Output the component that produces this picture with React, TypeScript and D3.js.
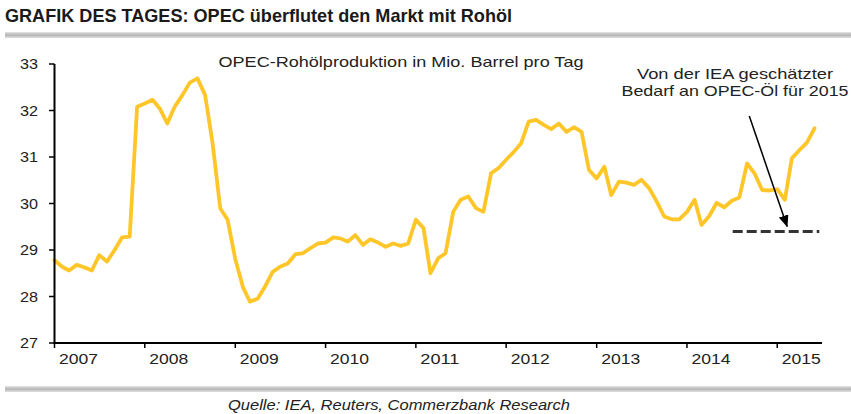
import React from "react";
import * as d3 from "d3";

// ---- data ----
const startMonth = "2007-01-01";
const production: number[] = [
  // 2007
  28.78, 28.64, 28.56, 28.68, 28.63, 28.56, 28.89, 28.75, 29.0, 29.27, 29.29, 32.08,
  // 2008
  32.15, 32.23, 32.05, 31.72, 32.08, 32.33, 32.6, 32.69, 32.33, 31.3, 29.9, 29.65,
  // 2009
  28.8, 28.2, 27.89, 27.95, 28.21, 28.53, 28.64, 28.71, 28.91, 28.93, 29.04, 29.14,
  // 2010
  29.16, 29.27, 29.25, 29.18, 29.32, 29.11, 29.23, 29.16, 29.07, 29.14, 29.09, 29.14,
  // 2011
  29.65, 29.47, 28.5, 28.82, 28.93, 29.82, 30.08, 30.15, 29.9, 29.82, 30.65, 30.76,
  // 2012
  30.94, 31.11, 31.29, 31.76, 31.8, 31.69, 31.6, 31.72, 31.54, 31.64, 31.54, 30.72,
  // 2013
  30.54, 30.79, 30.18, 30.47, 30.45, 30.4, 30.51, 30.33, 30.04, 29.72, 29.66, 29.66,
  // 2014
  29.82, 30.08, 29.54, 29.73, 30.01, 29.92, 30.06, 30.13, 30.86, 30.65, 30.29, 30.28,
  // 2015
  30.31, 30.08, 30.97, 31.15, 31.31, 31.62,
];
const demandValue = 29.4;
const demandPeriod = ["2014-07-05", "2015-06-20"];
const arrowDates = ["2014-09-10", "2015-02-10"];
const yearLabels = ["2007", "2008", "2009", "2010", "2011", "2012", "2013", "2014", "2015"];
const yTicks = [27, 28, 29, 30, 31, 32, 33];
const title = "GRAFIK DES TAGES: OPEC überflutet den Markt mit Rohöl";
const subtitle = "OPEC-Rohölproduktion in Mio. Barrel pro Tag";
const annotation = ["Von der IEA geschätzter", "Bedarf an OPEC-Öl für 2015"];
const source = "Quelle: IEA, Reuters, Commerzbank Research";

const W = 851;
const H = 414;
const FONT = "'Liberation Sans', Arial, sans-serif";
const LINE_COLOR = "#FFC629";

export default function App() {
  const parse = d3.timeParse("%Y-%m-%d");
  const start = parse(startMonth)!;
  const series = production.map((v, i) => ({ date: d3.timeMonth.offset(start, i), value: v }));

  const x = d3
    .scaleTime()
    .domain([new Date(2007, 0, 1), new Date(2015, 6, 1)])
    .range([54.5, 822]);
  const y = d3.scaleLinear().domain([27, 33]).range([343, 64]);

  const line = d3
    .line<{ date: Date; value: number }>()
    .x((d) => x(d.date))
    .y((d) => y(d.value));

  const yearTicks = yearLabels.map((s) => new Date(+s, 0, 1));
  const dStart = parse(demandPeriod[0])!;
  const dEnd = parse(demandPeriod[1])!;

  const arrowStart = { x: x(parse(arrowDates[0])!), y: 116 };
  const arrowEnd = { x: x(parse(arrowDates[1])!), y: y(demandValue) - 5 };

  return (
    <svg
      width={W}
      height={H}
      style={{ position: "absolute", left: 0, top: 0, background: "#fff" }}
      fontFamily={FONT}
    >
      <defs>
        <linearGradient id="band" x1="0" y1="0" x2="0" y2="1">
          <stop offset="0" stopColor="#e6e6e6" />
          <stop offset="0.5" stopColor="#b4b4b4" />
          <stop offset="1" stopColor="#e0e0e0" />
        </linearGradient>
        <marker
          id="arrowhead"
          viewBox="0 0 12 10"
          refX="11"
          refY="5"
          markerWidth="12"
          markerHeight="10"
          orient="auto"
          markerUnits="userSpaceOnUse"
        >
          <path d="M0,0 L12,5 L0,10 z" fill="#000" />
        </marker>
      </defs>

      {/* title */}
      <text x={5} y={22} fontSize={19} fontWeight="bold" fill="#1a1a1a" textLength={507} lengthAdjust="spacingAndGlyphs">
        {title}
      </text>
      <rect x={5} y={32} width={846} height={6} fill="url(#band)" />

      {/* subtitle */}
      <text x={401} y={67} fontSize={14.5} fill="#222" textAnchor="middle" textLength={365} lengthAdjust="spacingAndGlyphs">
        {subtitle}
      </text>

      {/* annotation */}
      {annotation.map((t, i) => (
        <text
          key={i}
          x={735}
          y={79 + i * 17}
          fontSize={14.5}
          fill="#222"
          textAnchor="middle"
          textLength={i === 0 ? 196 : 227}
          lengthAdjust="spacingAndGlyphs"
        >
          {t}
        </text>
      ))}

      {/* demand line */}
      <line
        x1={x(dStart)}
        x2={x(dEnd)}
        y1={y(demandValue)}
        y2={y(demandValue)}
        stroke="#333"
        strokeWidth={3}
        strokeDasharray="10,4"
      />

      {/* production line */}
      <path d={line(series) ?? ""} fill="none" stroke={LINE_COLOR} strokeWidth={3.8} strokeLinejoin="round" strokeLinecap="round" />

      {/* arrow */}
      <line
        x1={arrowStart.x}
        y1={arrowStart.y}
        x2={arrowEnd.x}
        y2={arrowEnd.y}
        stroke="#000"
        strokeWidth={1.5}
        markerEnd="url(#arrowhead)"
      />

      {/* y axis */}
      <line x1={54.5} x2={54.5} y1={y(33)} y2={y(27)} stroke="#000" strokeWidth={2} />
      {yTicks.map((t) => (
        <g key={t}>
          <line x1={49} x2={54.5} y1={y(t)} y2={y(t)} stroke="#000" strokeWidth={1.5} />
          <text x={38} y={y(t) + 5} fontSize={15} textAnchor="end" fill="#222" textLength={18} lengthAdjust="spacingAndGlyphs">
            {t}
          </text>
        </g>
      ))}

      {/* x axis */}
      <line x1={53.5} x2={822} y1={343} y2={343} stroke="#000" strokeWidth={2} />
      {yearTicks.map((d, i) => (
        <g key={i}>
          <line x1={x(d)} x2={x(d)} y1={343} y2={348} stroke="#000" strokeWidth={1.5} />
          <text x={x(d) + 24} y={364} fontSize={15} textAnchor="middle" fill="#222" textLength={39} lengthAdjust="spacingAndGlyphs">
            {yearLabels[i]}
          </text>
        </g>
      ))}

      {/* bottom band + source */}
      <rect x={5} y={386} width={846} height={6} fill="url(#band)" />
      <text x={399} y={410} fontSize={14} fontStyle="italic" fill="#222" textAnchor="middle" textLength={342} lengthAdjust="spacingAndGlyphs">
        {source}
      </text>
    </svg>
  );
}
